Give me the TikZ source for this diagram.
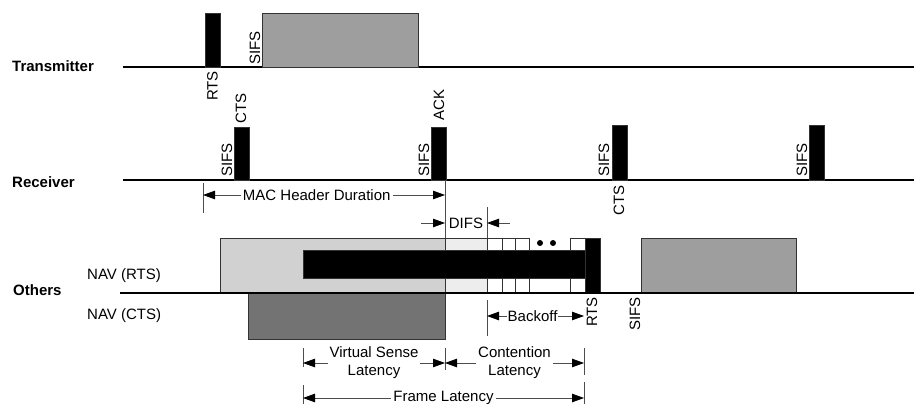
\documentclass[tikz,border=0pt]{standalone}
\usepackage{fontspec}
\setmainfont{Liberation Sans}
\usetikzlibrary{arrows.meta}
\usetikzlibrary{backgrounds}

\begin{document}
\begin{tikzpicture}[x=1pt,y=-1pt]
    \tikzstyle{TimeLine} = [
            draw=black,
            line width=1.8pt
    ];
    \tikzstyle{Frame} = [
            draw=black!80,
            line width=0.8pt,
            rectangle,
            inner sep=0pt,
            outer sep=0pt,
            anchor=south west
    ];
    \tikzstyle{Pulse} = [
            Frame,
            fill=black,
            minimum width=15pt
    ];
    \tikzstyle{Data} = [
            Frame,
            fill=black!38
    ];
    \tikzstyle{NavRts} = [
            Frame,
            fill=black!18
    ];
    \tikzstyle{NavCts} = [
            Frame,
            fill=black!55,
            anchor=north west
    ];
    \tikzstyle{Slot} = [
            Frame,
            fill=white
    ];
    \tikzstyle{Tag} = [
            rotate=90,
            inner sep=1pt,
            font={\fontsize{15}{18}\selectfont}
    ];
    \tikzstyle{TagBelow} = [
            Tag,
            anchor=east
    ];
    \tikzstyle{TagAbove} = [
            Tag,
            anchor=west
    ];
    \tikzstyle{Row} = [
            anchor=west,
            inner sep=0pt,
            font={\fontsize{15}{18}\selectfont\bfseries}
    ];
    \tikzstyle{NavLabel} = [
            Row,
            font={\fontsize{15}{18}\selectfont}
    ];
    \tikzstyle{Dim} = [
            draw=black!70,
            line width=0.8pt
    ];
    \tikzstyle{DimTo} = [
            Dim,
            -{Triangle[length=12pt,width=8.5pt,black]}
    ];
    \tikzstyle{DimBoth} = [
            Dim,
            {Triangle[length=12pt,width=8.5pt,black]}-{Triangle[length=12pt,width=8.5pt,black]}
    ];
    \tikzstyle{DimLabel} = [
            fill=white,
            inner sep=2pt,
            align=center,
            font={\fontsize{15}{18}\selectfont}
    ];

    \useasboundingbox (0,0) rectangle (914,404);

    % rows
    \node[Row, name=Tx]     at (12,66)  {Transmitter};
    \node[Row, name=Rx]     at (12,182) {Receiver};
    \node[Row, name=Others] at (13,290) {Others};
    \node[NavLabel, name=NavR] at (87,276) {NAV (RTS)};
    \node[NavLabel, name=NavC] at (87,316) {NAV (CTS)};

    \draw[TimeLine] (123,67)  -- (914,67);
    \draw[TimeLine] (123,180) -- (914,180);

    % transmitter
    \node[Pulse, minimum height=54pt, name=TxRts] at (205,67) {};
    \node[Data, minimum width=156pt, minimum height=54pt, name=TxData] at (262,67) {};
    \node[TagBelow] at (212.5,70) {RTS};
    \node[TagAbove] at (255,66)   {SIFS};

    % receiver
    \node[Pulse, minimum height=53pt, name=RxCts]  at (234,180) {};
    \node[Pulse, minimum height=53pt, name=RxAck]  at (431,180) {};
    \node[Pulse, minimum height=55pt, name=RxCts2] at (612,180) {};
    \node[Pulse, minimum height=55pt, name=RxCts3] at (809,180) {};
    \node[TagAbove] at (241,125) {CTS};
    \node[TagAbove] at (227,178) {SIFS};
    \node[TagAbove] at (439,122) {ACK};
    \node[TagAbove] at (424,178) {SIFS};
    \node[TagAbove] at (604,178) {SIFS};
    \node[TagBelow] at (619,184) {CTS};
    \node[TagAbove] at (802,178) {SIFS};

    % others
    \node[NavRts, minimum width=225pt, minimum height=55pt, name=NavRtsBox] at (220,293) {};
    \node[NavCts, minimum width=197pt, minimum height=46pt, name=NavCtsBox] at (248,293) {};
    \node[Slot, fill=black!7, minimum width=42pt, minimum height=55pt, name=DifsSlot] at (445,293) {};
    \foreach \x/\w in {487/15, 502/13, 515/14, 570/15}
        \node[Slot, minimum width=\w pt, minimum height=55pt] at (\x,293) {};
    \node[Slot, minimum width=41pt, minimum height=43pt] at (529,293) {};
    \fill (540,243) circle (3pt) (553,243) circle (3pt);
    \node[Frame, fill=black, minimum width=282pt, minimum height=28pt, name=Busy] at (303,278) {};
    \node[Pulse, minimum height=55pt, name=OthRts] at (585,293) {};
    \node[Data, minimum width=155pt, minimum height=55pt, name=OthData] at (641,293) {};
    \draw[TimeLine] (120,293) -- (914,293);
    \node[TagBelow] at (592,296) {RTS};
    \node[TagBelow] at (635,296) {SIFS};

    % durations
    \draw[Dim] (203,183) -- (203,213)
               (445,180) -- (445,238)
               (487,207) -- (487,238)
               (487,300) -- (487,336)
               (303,348) -- (303,367)
               (445,348) -- (445,370)
               (584,348) -- (584,375)
               (303,385) -- (303,404)
               (584,382) -- (584,404);

    \coordinate (MacL)  at (203,195);
    \coordinate (MacR)  at (445,195);
    \coordinate (DifsA) at (421,223);
    \coordinate (DifsL) at (445,223);
    \coordinate (DifsB) at (510,223);
    \coordinate (DifsR) at (487,223);
    \coordinate (BoL)   at (487,316);
    \coordinate (BoR)   at (584,316);
    \coordinate (VsL)   at (303,363);
    \coordinate (VsR)   at (445,363);
    \coordinate (CoR)   at (584,363);
    \coordinate (FrL)   at (303,398);
    \coordinate (FrR)   at (584,398);

    \draw[DimBoth] (MacL) -- node[DimLabel, pos=0.47] {MAC Header Duration} (MacR);
    \draw[DimTo]   (DifsA) -- (DifsL);
    \draw[DimTo]   (DifsB) -- (DifsR);
    \draw[DimBoth] (BoL) -- node[DimLabel, pos=0.47, inner sep=1pt] {Backoff} (BoR);
    \draw[DimBoth] (VsL) -- node[DimLabel] {Virtual Sense\\Latency} (VsR);
    \draw[DimBoth] (VsR) -- node[DimLabel] {Contention\\Latency} (CoR);
    \draw[DimBoth] (FrL) -- node[DimLabel] {Frame Latency} (FrR);
    \node[DimLabel, fill=none, inner sep=0pt] at (466,223) {DIFS};
\end{tikzpicture}
\end{document}
